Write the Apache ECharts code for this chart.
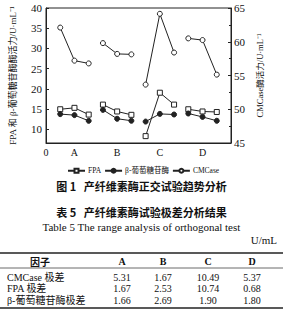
<!DOCTYPE html>
<html>
<head>
<meta charset="utf-8">
<script src="https://cdn.jsdelivr.net/npm/echarts@6/dist/echarts.min.js"></script>
<style>
  html, body { margin: 0; padding: 0; background: #fff; }
  #main { width: 283px; height: 318px; }
</style>
</head>
<body>
<div id="main"></div>
<script>
// 因子与水平
var factors = ['A', 'B', 'C', 'D'];
var xTickLabels = ['0', 'A', 'B', 'C', 'D'];
var xTickValues = [0, 2, 5, 8, 11];
var leftTicks = [10, 15, 20, 25, 30, 35, 40];

// 各水平酶活力 (A1..A3, B1..B3, C1..C3, D1..D3)
var fpa = [14.95, 15.3, 13.63, 16.1, 14.4, 13.57, 8.3, 19.04, 16.1, 14.95, 14.4, 14.27];
var glucosidase = [13.75, 13.5, 12.09, 14.8, 12.6, 12.11, 11.9, 13.8, 13.65, 13.9, 13.05, 12.1];
var cmcase = [62.1, 57.2, 56.79, 59.8, 58.2, 58.13, 53.65, 64.14, 58.4, 60.5, 60.25, 55.13];

// 表5 极差
var tableHead = ['因子', 'A', 'B', 'C', 'D'];
var rowNames = ['CMCase 极差', 'FPA 极差', 'β-葡萄糖苷酶极差'];
var rangeCMCase = ['5.31', '1.67', '10.49', '5.37'];
var rangeFPA = ['1.67', '2.53', '10.74', '0.68'];
var rangeGlu = ['1.66', '2.69', '1.90', '1.80'];

var SERIF = '"Liberation Serif", "Noto Sans CJK SC", serif';
var CJK = '"Noto Sans CJK SC", sans-serif';
var INK = '#222';

// 每个因子三个水平，因子之间断开
function toPoints(vals) {
    var out = [];
    for (var f = 0; f < factors.length; f++) {
        for (var l = 0; l < 3; l++) {
            out.push([f * 3 + l + 1, vals[f * 3 + l]]);
        }
        if (f < factors.length - 1) out.push([f * 3 + 3.5, '-']);
    }
    return out;
}

function lineSeries(name, vals, symbol, fill, yIdx) {
    return {
        name: name,
        type: 'line',
        yAxisIndex: yIdx,
        data: toPoints(vals),
        connectNulls: false,
        symbol: symbol,
        symbolSize: 5,
        showAllSymbol: true,
        lineStyle: {color: INK, width: 1},
        itemStyle: {color: fill, borderColor: INK, borderWidth: 1},
        emphasis: {disabled: true},
        animation: false
    };
}

// 表格文字
var colX = [40, 122, 163, 208, 252];
var rowY = [277, 288.5, 300];
var tableRows = [rangeCMCase, rangeFPA, rangeGlu];
var graphics = [
    {type: 'text', left: 'center', top: 180, style: {text: '图 1   产纤维素酶正交试验趋势分析', font: 'bold 11px ' + CJK, fill: '#111'}},
    {type: 'text', left: 'center', top: 206, style: {text: '表 5   产纤维素酶试验极差分析结果', font: 'bold 11px ' + CJK, fill: '#111'}},
    {type: 'text', left: 'center', top: 221, style: {text: 'Table 5 The range analysis of orthogonal test', font: '11px ' + SERIF, fill: '#111'}},
    {type: 'text', right: 6, top: 234, style: {text: 'U/mL', font: '11px ' + SERIF, fill: '#111'}},
    {type: 'line', shape: {x1: 0, y1: 253, x2: 283, y2: 253}, style: {stroke: '#222', lineWidth: 1.5}},
    {type: 'line', shape: {x1: 0, y1: 268, x2: 283, y2: 268}, style: {stroke: '#444', lineWidth: 0.8}},
    {type: 'line', shape: {x1: 0, y1: 308, x2: 283, y2: 308}, style: {stroke: '#222', lineWidth: 1.5}}
];
tableHead.forEach(function (h, i) {
    graphics.push({type: 'text', x: colX[i], y: 261, style: {
        text: h, font: 'bold 10px ' + (i === 0 ? CJK : SERIF), fill: '#111', align: 'center', verticalAlign: 'middle'}});
});
rowNames.forEach(function (n, r) {
    graphics.push({type: 'text', x: 7, y: rowY[r], style: {
        text: n, font: '10px ' + SERIF, fill: '#111', align: 'left', verticalAlign: 'middle'}});
    tableRows[r].forEach(function (v, c) {
        graphics.push({type: 'text', x: colX[c + 1], y: rowY[r], style: {
            text: v, font: '10px ' + SERIF, fill: '#111', align: 'center', verticalAlign: 'middle'}});
    });
});

var chart = echarts.init(document.getElementById('main'), null, {renderer: 'svg'});
chart.setOption({
    animation: false,
    grid: {left: 45, right: 52, top: 8, bottom: 175, show: true, borderColor: INK, borderWidth: 1},
    legend: {
        left: 62, top: 162,
        itemWidth: 17, itemHeight: 5, itemGap: 3,
        textStyle: {fontSize: 7.5, fontFamily: SERIF, color: '#111', padding: [0, 0, 0, -2]},
        data: ['FPA', 'β-葡萄糖苷酶', 'CMCase']
    },
    xAxis: {
        type: 'value', min: 0, max: 13,
        axisLine: {lineStyle: {color: INK}},
        axisTick: {show: false},
        splitLine: {show: false},
        axisLabel: {
            customValues: xTickValues,
            margin: 4,
            fontSize: 10, fontFamily: SERIF, color: '#111',
            formatter: function (v) { return xTickLabels[xTickValues.indexOf(v)]; }
        }
    },
    yAxis: [
        {
            type: 'value', min: 6.6, max: 40,
            name: 'FPA 和 β-葡萄糖苷酶酶活力/U·mL⁻¹',
            nameLocation: 'middle', nameGap: 29, nameRotate: 90,
            nameTextStyle: {fontSize: 9, fontFamily: SERIF, color: '#111'},
            axisLine: {show: true, lineStyle: {color: INK}},
            axisTick: {show: true, inside: true, length: 3, customValues: leftTicks, lineStyle: {color: INK}},
            splitLine: {show: false},
            axisLabel: {customValues: leftTicks, margin: 4, fontSize: 11, fontFamily: SERIF, color: '#111'}
        },
        {
            type: 'value', min: 45, max: 65, interval: 5, position: 'right',
            name: 'CMCase酶活力/U·mL⁻¹',
            nameLocation: 'middle', nameGap: 16, nameRotate: 90,
            nameTextStyle: {fontSize: 8.5, fontFamily: SERIF, color: '#111'},
            axisLine: {show: true, lineStyle: {color: INK}},
            axisTick: {show: true, inside: true, length: 3, lineStyle: {color: INK}},
            minorTick: {show: true, splitNumber: 2, length: 2, lineStyle: {color: INK}},
            splitLine: {show: false},
            axisLabel: {margin: 3, fontSize: 11, fontFamily: SERIF, color: '#111'}
        }
    ],
    series: [
        lineSeries('FPA', fpa, 'rect', '#fff', 0),
        lineSeries('β-葡萄糖苷酶', glucosidase, 'circle', INK, 0),
        lineSeries('CMCase', cmcase, 'circle', '#fff', 1)
    ],
    graphic: graphics
});
</script>
</body>
</html>
